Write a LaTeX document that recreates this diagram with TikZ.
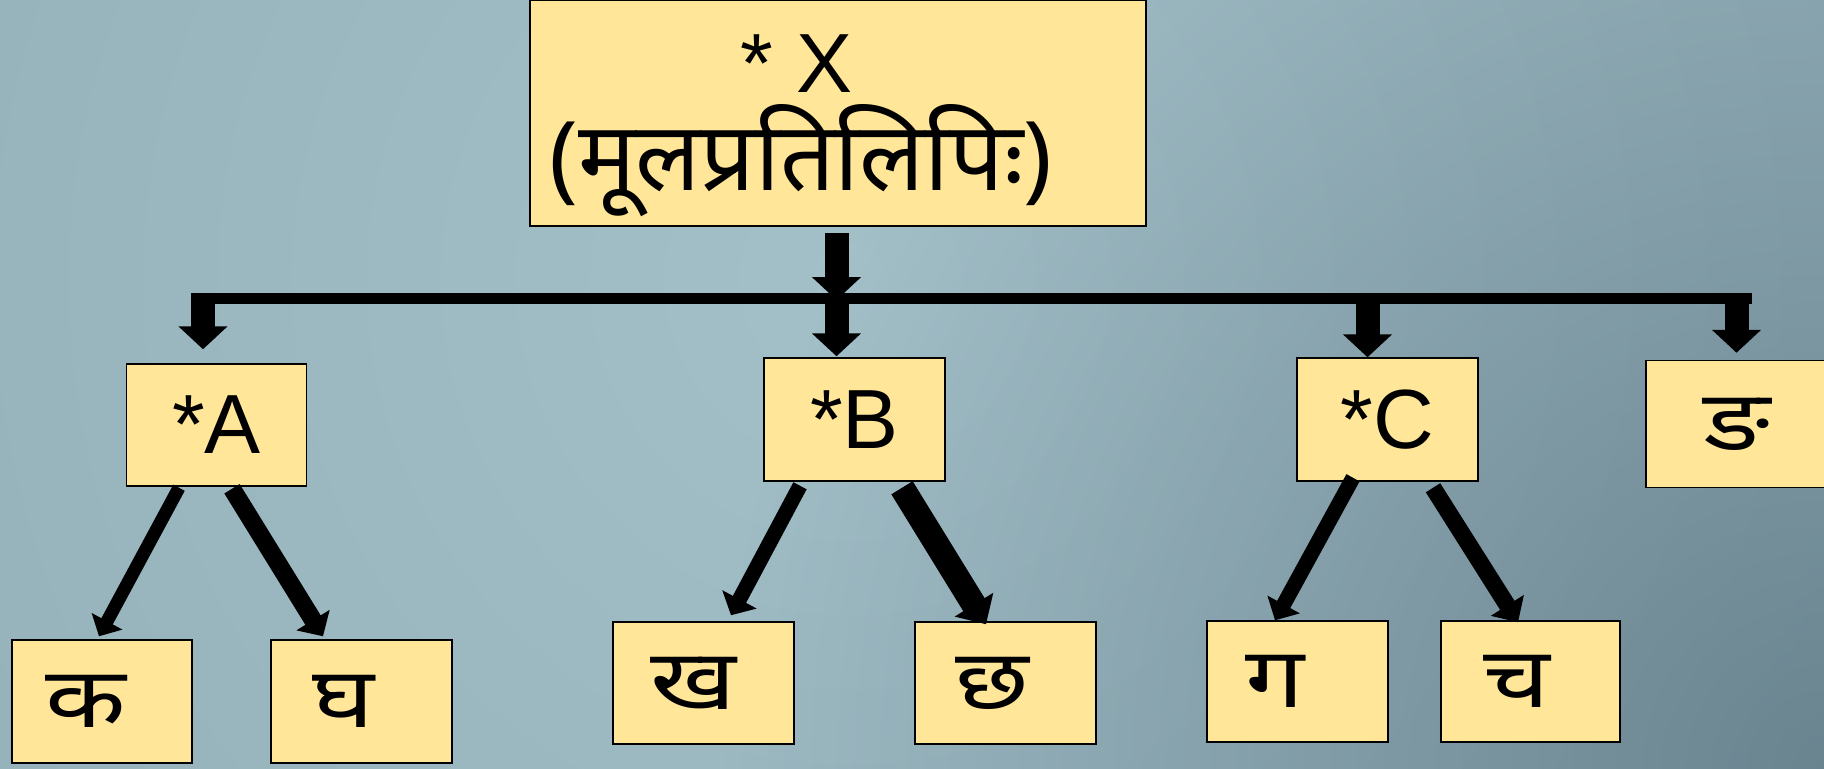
\documentclass[tikz,border=0pt]{standalone}
\usepackage{fontspec}
\usepackage{graphicx}
\setmainfont{Liberation Sans}
\newfontfamily\dev[Script=Devanagari]{Noto Sans}
\usetikzlibrary{arrows.meta,calc,fadings}
\definecolor{boxy}{HTML}{FFE699}
\definecolor{bgA}{HTML}{A3BFC8}
\definecolor{bgB}{HTML}{96B2BB}
\definecolor{bgC}{HTML}{89A9B2}
\definecolor{bgD}{HTML}{7C9CA6}
\definecolor{cornerdark}{HTML}{3F5866}
\pgfdeclareradialshading{bgshade}{\pgfpoint{0bp}{0bp}}{color(0bp)=(bgA); color(22bp)=(bgB); color(40bp)=(bgC); color(50bp)=(bgD)}
\tikzfading[name=cornerfade, inner color=transparent!50, outer color=transparent!100]
\newcommand{\wideglyph}[1]{\scalebox{1.25}[1]{#1}}
\tikzset{
  box/.style={draw=black, fill=boxy, line width=0.75pt, inner sep=0pt},
  lat/.style={font=\fontsize{42}{50}\selectfont},
  dv/.style={font=\dev\fontsize{42}{50}\selectfont},
  varrow/.style={line width=12pt, -{Triangle[width=24pt,length=11.5pt]}},
  busline/.style={line width=5.5pt},
  darrow/.style n args={3}{line width=#1, -{Triangle[width=#2,length=#3]}}
}
\begin{document}
\begin{tikzpicture}[x=0.5pt,y=-0.5pt]
\useasboundingbox (0,0) rectangle (1824,768);
\begin{scope}
  \clip (0,0) rectangle (1824,768);
  \shade[shading=bgshade] (850,280) circle[radius=550pt];
  \fill[cornerdark, path fading=cornerfade] (1824,768) circle[radius=550pt];

  % boxes
  \node[box, minimum width=308pt, minimum height=113pt] (X) at (838,113) {};
  \node[anchor=base, lat] (Xa) at ($(X.center)+(-41.5,-21)$) {* X};
  \node[anchor=base, font=\dev\fontsize{48}{50}\selectfont] (Xb) at ($(X.center)+(-37,77)$) {(मूलप्रतिलिपिः)};

  \node[box, lat, minimum width=90pt, minimum height=61pt] (A) at (216.5,425) {*A};
  \node[box, lat, minimum width=90.5pt, minimum height=61.5pt] (B) at (854.5,419.5) {*B};
  \node[box, lat, minimum width=90.5pt, minimum height=61.5pt] (C) at (1387.5,419.5) {*C};
  \node[box, dv, minimum width=90.5pt, minimum height=63.5pt] (N) at (1736.5,424) {\wideglyph{ङ}};

  \node[box, dv, minimum width=90pt, minimum height=61.5pt] (K1) at (102,701.5) {\wideglyph{क}\kern16pt};
  \node[box, dv, minimum width=90.5pt, minimum height=61.5pt] (K2) at (361.5,701.5) {\wideglyph{घ}\kern18pt};
  \node[box, dv, minimum width=90.5pt, minimum height=61pt] (K3) at (703.5,683) {\wideglyph{ख}\kern10pt};
  \node[box, dv, minimum width=90.5pt, minimum height=61pt] (K4) at (1005.5,683) {\wideglyph{छ}\kern13pt};
  \node[box, dv, minimum width=90.5pt, minimum height=60.5pt] (K5) at (1297.5,681.5) {\wideglyph{ग}\kern22pt};
  \node[box, dv, minimum width=89.5pt, minimum height=60.5pt] (K6) at (1530.5,681.5) {\wideglyph{च}\kern14pt};

  % bus and vertical arrows
  \coordinate (busL) at (191,298.5);
  \coordinate (busR) at (1752,298.5);
  \draw[busline] (busL) -- (busR);
  \draw[varrow] ($(X.south)+(-1.5,6)$) -- ($(X.south |- busL)+(-1.5,1.5)$);
  \draw[varrow] ($(A.north |- busL)+(-13.5,-5.5)$) -- ($(A.north)+(-13.5,-14)$);
  \draw[varrow] ($(B.north |- busL)+(-18,-5.5)$) -- ($(B.north)+(-18,-1)$);
  \draw[varrow] ($(C.north |- busL)+(-20,-5.5)$) -- ($(C.north)+(-20,0)$);
  \draw[varrow] ($(N.north |- busL)+(0,-5.5)$) -- ($(N.north)+(0,-7)$);

  % diagonal arrows
  \draw[darrow={6.5pt}{17pt}{8.5pt}] ($(A.south)+(-37.5,1)$) -- ($(K1.north)+(-3,-3)$);
  \draw[darrow={9pt}{19pt}{9.5pt}] ($(A.south)+(15.5,2)$) -- ($(K2.north)+(-38.5,-3)$);
  \draw[darrow={7.5pt}{19pt}{9pt}] ($(B.south)+(-54.5,4)$) -- ($(K3.north)+(27.5,-6)$);
  \draw[darrow={12.5pt}{22pt}{11.5pt}] ($(B.south)+(47.5,6)$) -- ($(K4.north)+(-19.5,3)$);
  \draw[darrow={7.5pt}{18pt}{9pt}] ($(C.south)+(-34.5,-4)$) -- ($(K5.north)+(-22.5,0)$);
  \draw[darrow={8.5pt}{19pt}{10pt}] ($(C.south)+(45.5,6)$) -- ($(K6.north)+(-12.5,2)$);
\end{scope}
\end{tikzpicture}
\end{document}
